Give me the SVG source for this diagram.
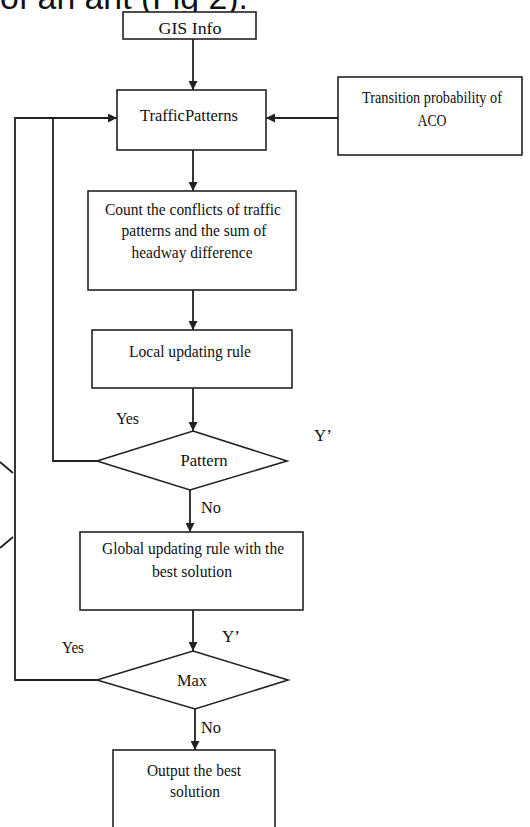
<svg xmlns="http://www.w3.org/2000/svg" width="530" height="827" viewBox="0 0 530 827">
<defs>
<style>
.box{fill:#fff;stroke:#222;stroke-width:1.6}
.ln{fill:none;stroke:#222;stroke-width:1.8}
.t{font-family:"Liberation Serif","Times New Roman",serif;font-size:17px;fill:#111}
.c{text-anchor:middle}
</style>
<marker id="ah" viewBox="0 0 10 10" refX="10" refY="5" markerWidth="10" markerHeight="9" markerUnits="userSpaceOnUse" orient="auto">
<path d="M0,0 L10,5 L0,10 z" fill="#222"/>
</marker>
</defs>
<rect width="530" height="827" fill="#fff"/>
<text x="0" y="9" font-family="Liberation Sans, Arial, sans-serif" font-size="33" fill="#111" textLength="248" lengthAdjust="spacingAndGlyphs">of an ant (Fig 2).</text>

<g id="connectors">
<line class="ln" x1="193" y1="39" x2="193" y2="90" marker-end="url(#ah)"/>
<line class="ln" x1="338" y1="118" x2="266" y2="118" marker-end="url(#ah)"/>
<line class="ln" x1="193" y1="150" x2="193" y2="191" marker-end="url(#ah)"/>
<line class="ln" x1="193" y1="290" x2="193" y2="330" marker-end="url(#ah)"/>
<line class="ln" x1="193" y1="388" x2="193" y2="431" marker-end="url(#ah)"/>
<line class="ln" x1="190" y1="490" x2="190" y2="532" marker-end="url(#ah)"/>
<line class="ln" x1="193" y1="610" x2="193" y2="651" marker-end="url(#ah)"/>
<line class="ln" x1="195" y1="709" x2="195" y2="750" marker-end="url(#ah)"/>
<polyline class="ln" points="97,461 53,461 53,118"/>
<polyline class="ln" points="97,680 15,680 15,118 117,118" marker-end="url(#ah)"/>
<line class="ln" x1="0" y1="462" x2="13" y2="473" stroke-width="1"/>
<line class="ln" x1="0" y1="548" x2="13" y2="537" stroke-width="1"/>
</g>

<g id="gis">
<rect class="box" x="123" y="12" width="133" height="27"/>
<text class="t c" x="190" y="34" textLength="63" lengthAdjust="spacingAndGlyphs">GIS Info</text>
</g>
<g id="traffic">
<rect class="box" x="117" y="90" width="149" height="60"/>
<text class="t c" x="189" y="121" textLength="98" lengthAdjust="spacingAndGlyphs">TrafficPatterns</text>
</g>
<g id="transition">
<rect class="box" x="338" y="77" width="184" height="78"/>
<text class="t c" x="432" y="103" textLength="140" lengthAdjust="spacingAndGlyphs">Transition probability of</text>
<text class="t c" x="432" y="126" textLength="29" lengthAdjust="spacingAndGlyphs">ACO</text>
</g>
<g id="count">
<rect class="box" x="88" y="191" width="208" height="99"/>
<text class="t c" x="193" y="215" textLength="176" lengthAdjust="spacingAndGlyphs">Count the conflicts of traffic</text>
<text class="t c" x="194" y="236" textLength="145" lengthAdjust="spacingAndGlyphs">patterns and the sum of</text>
<text class="t c" x="192" y="258" textLength="121" lengthAdjust="spacingAndGlyphs">headway  difference</text>
</g>
<g id="local">
<rect class="box" x="92" y="330" width="200" height="58"/>
<text class="t c" x="190" y="357" textLength="122" lengthAdjust="spacingAndGlyphs">Local updating rule</text>
</g>
<g id="pattern">
<polygon class="box" points="193,431 287,461 190,490 97,461"/>
<text class="t c" x="204" y="466" textLength="47" lengthAdjust="spacingAndGlyphs">Pattern</text>
<text class="t" x="116" y="424" textLength="23" lengthAdjust="spacingAndGlyphs">Yes</text>
<text class="t" x="314" y="441">Y’</text>
<text class="t" x="201" y="513" textLength="20" lengthAdjust="spacingAndGlyphs">No</text>
</g>
<g id="global">
<rect class="box" x="80" y="532" width="223" height="78"/>
<text class="t c" x="193" y="554" textLength="182" lengthAdjust="spacingAndGlyphs">Global updating rule with the</text>
<text class="t c" x="192" y="577" textLength="80" lengthAdjust="spacingAndGlyphs">best solution</text>
</g>
<g id="max">
<polygon class="box" points="193,651 288,680 195,709 97,680"/>
<text class="t c" x="192" y="686" textLength="30" lengthAdjust="spacingAndGlyphs">Max</text>
<text class="t" x="222" y="642">Y’</text>
<text class="t" x="62" y="653" textLength="22" lengthAdjust="spacingAndGlyphs">Yes</text>
<text class="t" x="201" y="733" textLength="20" lengthAdjust="spacingAndGlyphs">No</text>
</g>
<g id="output">
<rect class="box" x="113" y="750" width="162" height="90"/>
<text class="t c" x="194" y="776" textLength="94" lengthAdjust="spacingAndGlyphs">Output the best</text>
<text class="t c" x="195" y="797" textLength="50" lengthAdjust="spacingAndGlyphs">solution</text>
</g>
</svg>
